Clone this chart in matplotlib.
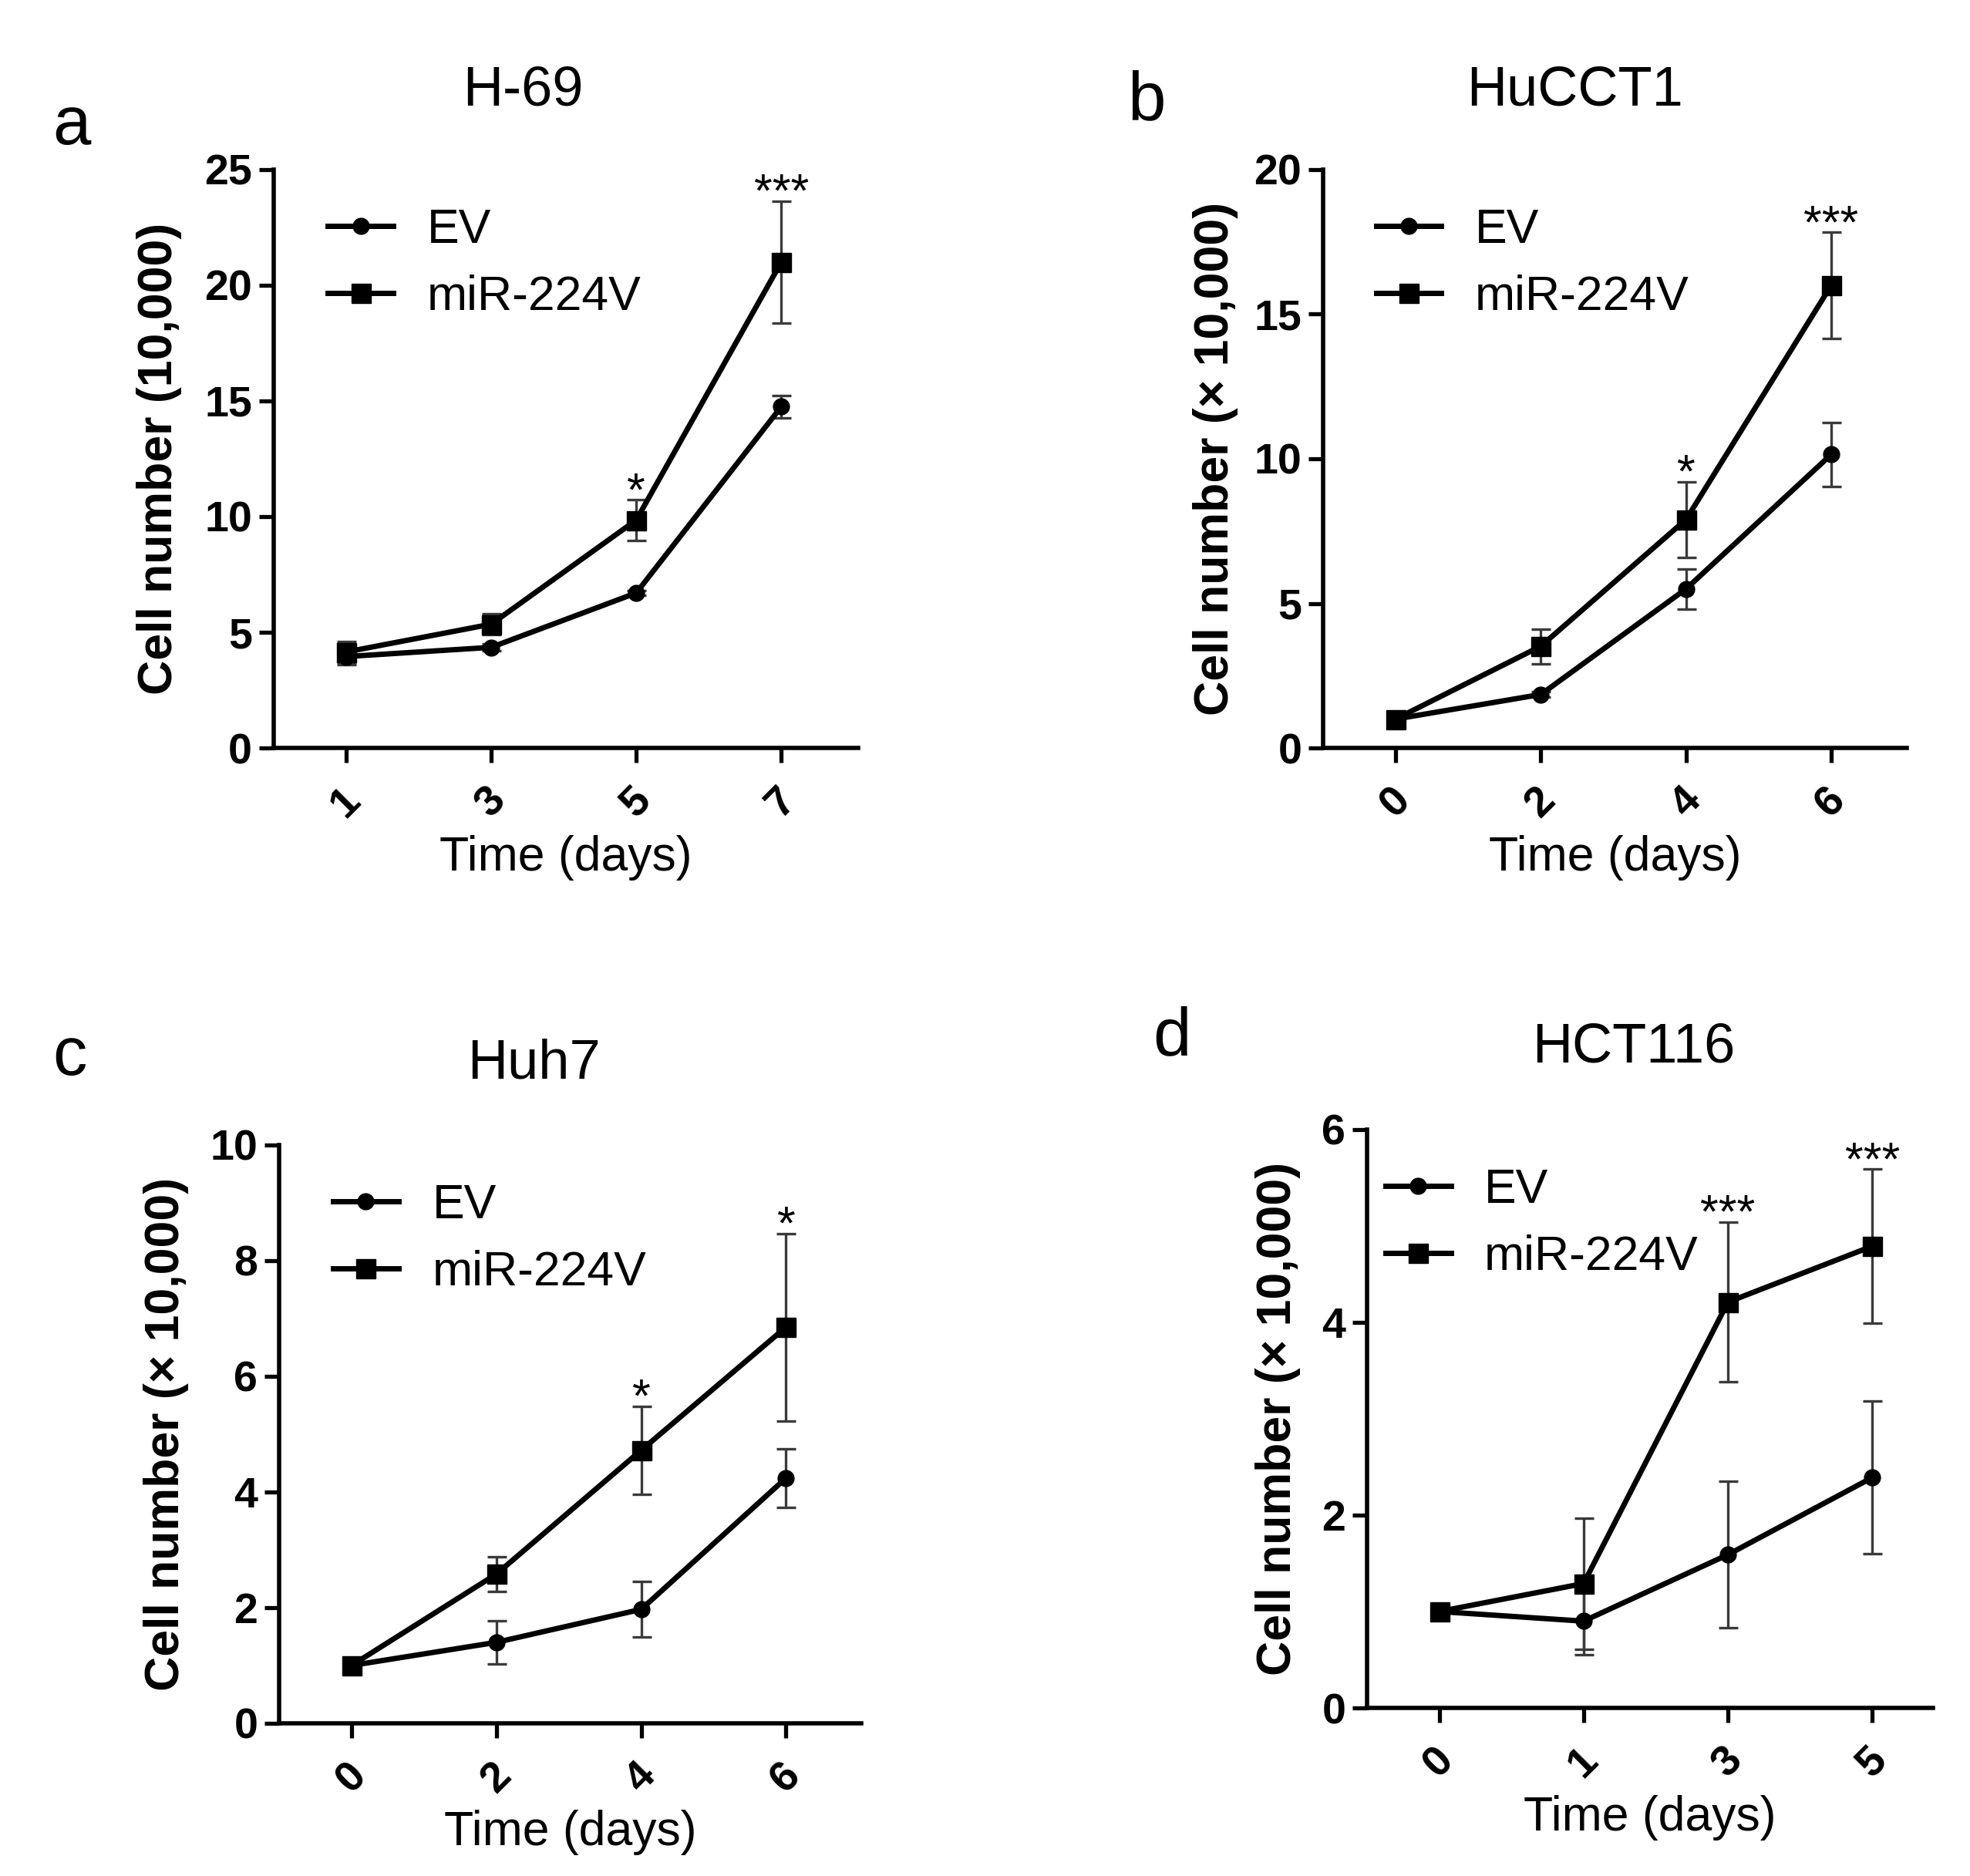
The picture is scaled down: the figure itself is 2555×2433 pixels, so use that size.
import matplotlib
matplotlib.use("Agg")
import matplotlib.pyplot as plt

plt.rcParams['font.family'] = ['Liberation Sans', 'DejaVu Sans']

# panel a: H-69
a_days = ['1', '3', '5', '7']
a_ev = [3.95, 4.35, 6.7, 14.75]
a_ev_err = [0.35, 0.15, 0.1, 0.47]
a_mir = [4.15, 5.35, 9.85, 21.0]
a_mir_err = [0.45, 0.45, 0.88, 2.64]
a_sig = ['', '', '*', '***']

# panel b: HuCCT1
b_days = ['0', '2', '4', '6']
b_ev = [1.0, 1.85, 5.5, 10.15]
b_ev_err = [0.05, 0.1, 0.7, 1.1]
b_mir = [1.0, 3.52, 7.9, 16.0]
b_mir_err = [0.05, 0.6, 1.3, 1.83]
b_sig = ['', '', '*', '***']

# panel c: Huh7
c_days = ['0', '2', '4', '6']
c_ev = [1.0, 1.4, 1.97, 4.24]
c_ev_err = [0.03, 0.37, 0.48, 0.51]
c_mir = [1.0, 2.58, 4.72, 6.85]
c_mir_err = [0.03, 0.3, 0.76, 1.62]
c_sig = ['', '', '*', '*']

# panel d: HCT116
d_days = ['0', '1', '3', '5']
d_ev = [1.0, 0.9, 1.59, 2.39]
d_ev_err = [0.02, 0.35, 0.76, 0.79]
d_mir = [1.0, 1.29, 4.21, 4.79]
d_mir_err = [0.02, 0.68, 0.83, 0.8]
d_sig = ['', '', '***', '***']

fig = plt.figure(figsize=(25.55, 24.33), dpi=100)


def panel(rect, days, ev, ev_err, mir, mir_err, sig, ymax, ystep, ylabel,
          xmax, leg_x, ylab_x):
    ax = fig.add_axes(rect)
    x = list(range(len(days)))
    for vals, errs in ((ev, ev_err), (mir, mir_err)):
        ax.errorbar(x, vals, yerr=errs, fmt='none', ecolor='#3a3a3a',
                    elinewidth=2.4, capsize=9, capthick=2.4, zorder=2)
    ax.plot(x, ev, color='black', lw=5, marker='o', ms=15, label='EV', zorder=3)
    ax.plot(x, mir, color='black', lw=5, marker='s', ms=18, label='miR-224V', zorder=3)
    for xi, v, e, s in zip(x, mir, mir_err, sig):
        if s:
            ax.annotate(s, (xi, v + e), xytext=(0, -5), textcoords='offset points',
                        ha='center', va='baseline', fontsize=44)
    ax.set_xlim(-0.5, xmax)
    ax.set_ylim(0, ymax)
    ax.set_yticks(range(0, ymax + 1, ystep))
    ax.set_xticks(x)
    ax.set_xticklabels(days, rotation=45, fontweight='bold', fontsize=40)
    for t in ax.get_yticklabels():
        t.set_fontweight('bold')
        t.set_fontsize(40)
    ax.tick_params(axis='both', direction='out', length=14, width=3.8)
    ax.tick_params(axis='y', pad=6)
    ax.tick_params(axis='x', pad=16)
    for side in ('top', 'right'):
        ax.spines[side].set_visible(False)
    for side in ('left', 'bottom'):
        ax.spines[side].set_linewidth(4)
    ax.set_ylabel(ylabel, fontsize=45, fontweight='bold')
    ax.yaxis.set_label_coords(ylab_x, 0.5)
    ax.set_xlabel('Time (days)', fontsize=45)
    ax.xaxis.set_label_coords(0.5, -0.15)
    ax.legend(loc='upper left', bbox_to_anchor=(leg_x, 0.935), frameon=False,
              fontsize=45, borderpad=0, borderaxespad=0, handlelength=1.35,
              handletextpad=0.7, labelspacing=0.45)
    return ax


panel([0.1389, 0.6013, 0.2967, 0.3083], a_days, a_ev, a_ev_err, a_mir, a_mir_err,
      a_sig, 25, 5, 'Cell number (10,000)', 3.53, 0.093, -0.157)
panel([0.6716, 0.6013, 0.2963, 0.3083], b_days, b_ev, b_ev_err, b_mir, b_mir_err,
      b_sig, 20, 5, 'Cell number (\u00d7 10,000)', 3.52, 0.091, -0.145)
panel([0.1417, 0.0814, 0.2955, 0.3083], c_days, c_ev, c_ev_err, c_mir, c_mir_err,
      c_sig, 10, 2, 'Cell number (\u00d7 10,000)', 3.52, 0.093, -0.155)
panel([0.6939, 0.0896, 0.2873, 0.3083], d_days, d_ev, d_ev_err, d_mir, d_mir_err,
      d_sig, 6, 2, 'Cell number (\u00d7 10,000)', 3.42, 0.033, -0.117)

# titles and panel letters
fig.text(0.2654, 0.9437, 'H-69', fontsize=52, ha='center', va='baseline')
fig.text(0.7996, 0.9437, 'HuCCT1', fontsize=52, ha='center', va='baseline')
fig.text(0.2712, 0.425, 'Huh7', fontsize=52, ha='center', va='baseline')
fig.text(0.8294, 0.434, 'HCT116', fontsize=52, ha='center', va='baseline')
fig.text(0.0266, 0.9231, 'a', fontsize=64, ha='left', va='baseline')
fig.text(0.5722, 0.9363, 'b', fontsize=64, ha='left', va='baseline')
fig.text(0.0266, 0.427, 'c', fontsize=64, ha='left', va='baseline')
fig.text(0.5851, 0.4373, 'd', fontsize=64, ha='left', va='baseline')

fig.savefig('out.png', dpi=100)
